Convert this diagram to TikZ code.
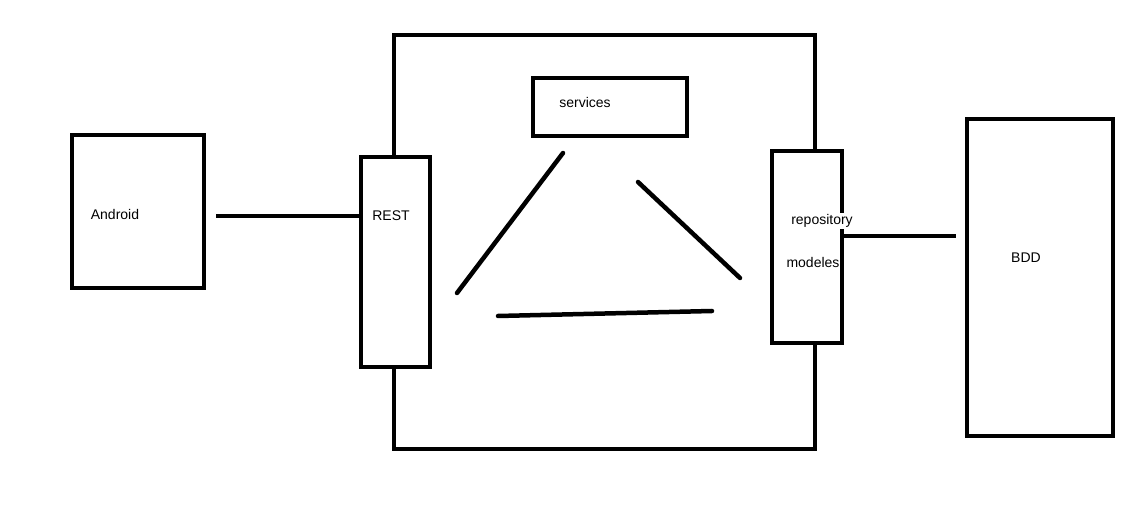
\documentclass[tikz,border=0pt]{standalone}
\usepackage{fontspec}
\setmainfont{Liberation Sans}
\usetikzlibrary{positioning}
\tikzset{
  box/.style={draw, line width=4.5pt, fill=white, inner sep=0pt},
  lbl/.style={inner sep=0pt, font=\fontsize{14}{16}\selectfont},
  wire/.style={line width=4.5pt, line cap=round}
}

\begin{document}
\begin{tikzpicture}[x=1pt, y=-1pt]
\useasboundingbox (0,0) rectangle (1135,518);
% server frame
\node [box, fill=none, minimum width=421pt, minimum height=414pt] (server) at (604.5,242) {};
% boxes
\node [box, minimum width=132pt, minimum height=153pt] (android) at (138,211.5) {};
\node [box, minimum width=69pt, minimum height=210pt] (rest) at (395.5,262) {};
\node [box, minimum width=154pt, minimum height=58pt] (services) at (610,107) {};
\node [box, minimum width=70pt, minimum height=192pt] (repo) at (807,247) {};
\node [box, minimum width=146pt, minimum height=317pt] (bdd) at (1040,277.5) {};
% texts
\node [lbl] (androidtxt) at (115,214) {Android};
\node [lbl] (resttxt) at (391,216) {REST};
\node [lbl] (servicestxt) at (585,102) {services};
\node [lbl, fill=white, inner sep=1pt] (repotxt) at (822,221) {repository};
\node [lbl] (modelestxt) at (813,262) {modeles};
\node [lbl] (bddtxt) at (1026,258) {BDD};
% links
\draw [wire, line cap=butt, shorten <=10pt] (android.east |- 0,216) -- (rest.west |- 0,216);
\draw [wire, line cap=butt, shorten >=9pt] (repo.east |- 0,236) -- (bdd.west |- 0,236);
% triangle inside
\draw [wire] (563,153) -- (457,293);
\draw [wire] (638,182) -- (740,278);
\draw [wire] (498,316) -- (712,311);
\end{tikzpicture}
\end{document}
